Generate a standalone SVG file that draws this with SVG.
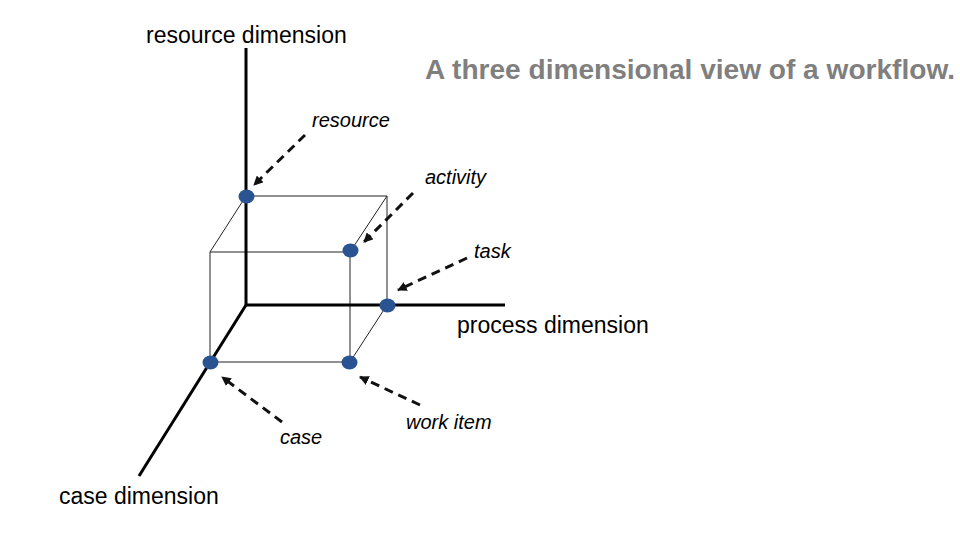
<svg xmlns="http://www.w3.org/2000/svg" width="960" height="540" viewBox="0 0 960 540">
<style>
.axis{stroke:#000;stroke-width:3;fill:none;stroke-linecap:butt}
.edge{stroke:#222;stroke-width:1;fill:none}
.ptr{stroke:#111;stroke-width:3;fill:none;stroke-dasharray:9 6}
.dot{fill:#2a5491}
.ax{font-family:"Liberation Sans",Arial,sans-serif;font-size:23px;fill:#000}
.lb{font-family:"Liberation Sans",Arial,sans-serif;font-size:20px;font-style:italic;fill:#000}
.title{font-family:"Liberation Sans",Arial,sans-serif;font-size:27px;font-weight:bold;fill:#7f7f7f}
</style>
<defs>
<marker id="ah" viewBox="0 0 10 10" refX="9" refY="5" markerWidth="3.2" markerHeight="3.2" orient="auto" markerUnits="strokeWidth">
<path d="M0,0 L10,5 L0,10 z" fill="#111"/>
</marker>
</defs>
<text class="title" x="425" y="79" textLength="530" lengthAdjust="spacingAndGlyphs">A three dimensional view of a workflow.</text>
<g id="connectors">
<g id="cube">
<line class="edge" x1="246" y1="196" x2="387" y2="196"/>
<line class="edge" x1="387" y1="196" x2="387" y2="305"/>
<line class="edge" x1="246" y1="196" x2="210" y2="252"/>
<line class="edge" x1="387" y1="196" x2="350" y2="252"/>
<line class="edge" x1="387" y1="305" x2="350" y2="362"/>
<line class="edge" x1="210" y1="252" x2="350" y2="252"/>
<line class="edge" x1="210" y1="252" x2="210" y2="362"/>
<line class="edge" x1="350" y1="252" x2="350" y2="362"/>
<line class="edge" x1="210" y1="362" x2="350" y2="362"/>
</g>
<g id="axes">
<line class="axis" x1="246" y1="48" x2="246" y2="305"/>
<line class="axis" x1="245" y1="305" x2="505" y2="305"/>
<line class="axis" x1="246" y1="305" x2="139" y2="476"/>
</g>
<g id="pointers">
<line class="ptr" x1="305" y1="135" x2="254" y2="185" marker-end="url(#ah)"/>
<line class="ptr" x1="413" y1="193" x2="364" y2="242" marker-end="url(#ah)"/>
<line class="ptr" x1="467" y1="258" x2="398" y2="290" marker-end="url(#ah)"/>
<line class="ptr" x1="282" y1="422" x2="222" y2="377" marker-end="url(#ah)"/>
<line class="ptr" x1="420" y1="405" x2="360" y2="377" marker-end="url(#ah)"/>
</g>
</g>
<g id="node-resource"><ellipse class="dot" cx="246.5" cy="196.5" rx="8" ry="7"/></g>
<g id="node-activity"><ellipse class="dot" cx="350.5" cy="250.5" rx="8" ry="7"/></g>
<g id="node-task"><ellipse class="dot" cx="387.5" cy="305.5" rx="8" ry="7"/></g>
<g id="node-case"><ellipse class="dot" cx="210.5" cy="362.5" rx="8" ry="7"/></g>
<g id="node-workitem"><ellipse class="dot" cx="349.5" cy="362.5" rx="8" ry="7"/></g>
<g id="labels">
<text class="ax" x="146" y="43">resource dimension</text>
<text class="ax" x="457" y="333">process dimension</text>
<text class="ax" x="59" y="504">case dimension</text>
<text class="lb" x="312" y="127">resource</text>
<text class="lb" x="425" y="184">activity</text>
<text class="lb" x="474" y="258">task</text>
<text class="lb" x="280" y="444">case</text>
<text class="lb" x="406" y="429">work item</text>
</g>
</svg>
